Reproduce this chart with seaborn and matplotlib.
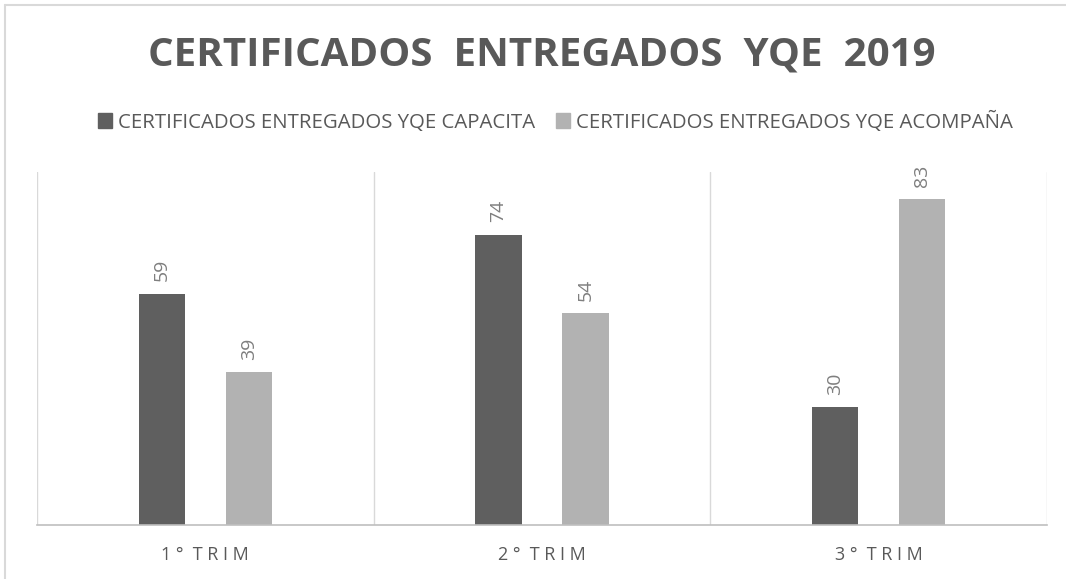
import matplotlib
matplotlib.use("Agg")
import matplotlib.pyplot as plt
import seaborn as sns
import pandas as pd
from matplotlib.patches import Rectangle

categories = ["1° TRIM", "2° TRIM", "3° TRIM"]
tick_labels = ["1 °  T R I M", "2 °  T R I M", "3 °  T R I M"]
series_names = ["CERTIFICADOS ENTREGADOS YQE CAPACITA", "CERTIFICADOS ENTREGADOS YQE ACOMPAÑA"]
capacita = [59, 74, 30]
acompana = [39, 54, 83]

df = pd.DataFrame({
    "cat": categories * 2,
    "serie": [series_names[0]] * 3 + [series_names[1]] * 3,
    "val": capacita + acompana,
})

sns.set_theme(style="white")
plt.rcParams['font.family'] = ['Open Sans', 'DejaVu Sans']

fig = plt.figure(figsize=(10.66, 5.79), dpi=100)
ax = fig.add_axes([37/1066, 1 - 525/579, (1047-37)/1066, (525-172)/579])

palette = ["#5f5f5f", "#b2b2b2"]
sns.barplot(data=df, x="cat", y="val", hue="serie", palette=palette,
            width=0.518, gap=0.47, ax=ax, legend=False, saturation=1,
            edgecolor="none")

ax.set_ylim(0, 90)
ax.set_xlim(-0.5, 2.5)
for s in ["top", "right", "left"]:
    ax.spines[s].set_visible(False)
ax.spines["bottom"].set_color("#bfbfbf")
ax.spines["bottom"].set_linewidth(1.2)
for xv in [-0.5, 0.5, 1.5, 2.5]:
    ax.axvline(xv, color="#d9d9d9", lw=1, zorder=0)
ax.set_yticks([])
ax.set_xticks(range(3))
ax.set_xticklabels(tick_labels, fontsize=13, color="#595959")
ax.tick_params(axis="x", length=0, pad=15)
ax.set_xlabel("")
ax.set_ylabel("")

for cont in ax.containers:
    for bar in cont:
        h = bar.get_height()
        ax.annotate(f"{int(h)}", (bar.get_x() + bar.get_width()/2, h),
                    xytext=(0, 9), textcoords="offset points",
                    rotation=90, ha="center", va="bottom",
                    fontsize=14, color="#7f7f7f")

fig.text(0.508, 1 - 55/579, "CERTIFICADOS  ENTREGADOS  YQE  2019",
         ha="center", va="center", fontsize=29, fontweight="bold",
         color="#595959")

# legend
handles = [Rectangle((0, 0), 1, 1, color=c) for c in palette]
fig.legend(handles, series_names, loc="center", bbox_to_anchor=(0.521, 1 - 122/579),
           ncol=2, frameon=False, handlelength=0.7, handleheight=0.7,
           handletextpad=0.3, columnspacing=1.0,
           prop={"family": ["Open Sans", "DejaVu Sans"], "size": 14.7},
           labelcolor="#595959")

# outer frame
fig.add_artist(plt.Line2D([5/1066, 5/1066], [0, 1 - 5/579], transform=fig.transFigure, color="#d9d9d9", lw=1.5))
fig.add_artist(plt.Line2D([5/1066, 1], [1 - 5/579, 1 - 5/579], transform=fig.transFigure, color="#d9d9d9", lw=1.5))

fig.savefig("out.png", dpi=100)
